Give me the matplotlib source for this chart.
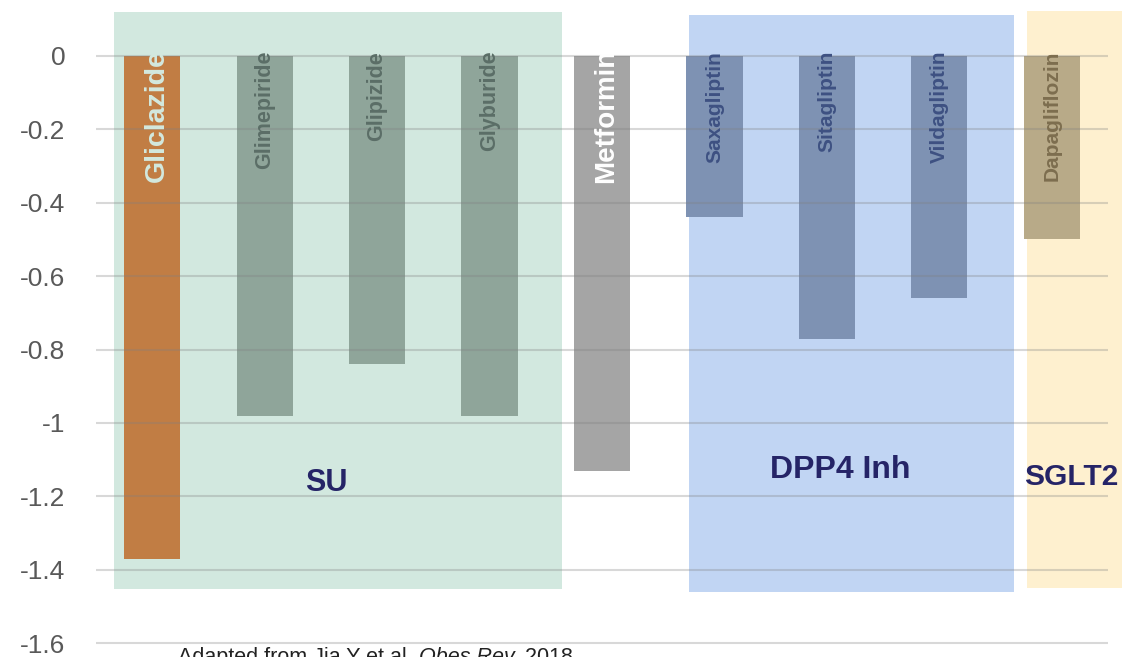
import matplotlib
matplotlib.use("Agg")
import matplotlib.pyplot as plt
from matplotlib.patches import Rectangle

plt.rcParams['axes.unicode_minus'] = False
plt.rcParams['font.family'] = ['Liberation Sans', 'DejaVu Sans']

# data
drugs = ["Gliclazide", "Glimepiride", "Glipizide", "Glyburide", "Metformin",
         "Saxagliptin", "Sitagliptin", "Vildagliptin", "Dapagliflozin"]
change = [-1.37, -0.98, -0.84, -0.98, -1.13, -0.44, -0.77, -0.66, -0.50]
bar_colors = ["#c17d44", "#8fa59a", "#8fa59a", "#8fa59a", "#a5a5a5",
              "#7e92b3", "#7e92b3", "#7e92b3", "#b8aa88"]
label_colors = ["#d3e9df", "#5b6e67", "#5b6e67", "#5b6e67", "#ffffff",
                "#3e5182", "#3e5182", "#3e5182", "#7d6e4f"]
label_sizes = [20.5, 15.5, 15.5, 15.5, 20, 15, 15, 15, 15]
yticks = [0, -0.2, -0.4, -0.6, -0.8, -1, -1.2, -1.4, -1.6]
ytick_labels = ["0", "-0.2", "-0.4", "-0.6", "-0.8", "-1", "-1.2", "-1.4", "-1.6"]

# class boxes: first / last drug index of each class
groups = ["SU", "DPP4 Inh", "SGLT2"]
group_span = [(0, 3), (5, 7), (8, 8)]
group_colors = ["#d2e8df", "#c1d5f3", "#fef0cf"]

note_parts = ["Adapted from Jia Y et al. ", "Obes Rev.", " 2018"]
note_styles = ["normal", "italic", "normal"]

W, H = 1123, 657
fig = plt.figure(figsize=(W / 100, H / 100), dpi=100)
ax = fig.add_axes([96 / W, 0, (1108 - 96) / W, 1])
ax.set_xlim(-0.5, 8.5)
ax.set_ylim(-1.638, 0.1526)

x = list(range(len(drugs)))

# background boxes for the drug classes (pad left, pad right, top, bottom)
box_pad = [(0.34, 0.644, 0.12, -1.453), (0.227, 0.662, 0.112, -1.461), (0.222, 0.622, 0.123, -1.45)]
for (a, b), c, (pl, pr, top, bot) in zip(group_span, group_colors, box_pad):
    r = Rectangle((a - pl, bot), (b - a) + pl + pr, top - bot, facecolor=c,
                  edgecolor="none", zorder=0, clip_on=False)
    ax.add_patch(r)

bars = ax.bar(x, change, width=0.5, color=bar_colors, zorder=2)

for yv in yticks:
    ax.axhline(yv, color="#808080", alpha=0.3, lw=1.5, zorder=3)

for i, (b, name) in enumerate(zip(bars, drugs)):
    t = ax.text(i, 0.014, name, rotation=90, ha="center", va="top",
                fontsize=label_sizes[i], fontweight="bold", color=label_colors[i], zorder=4)
    if label_sizes[i] > 18:
        t.set_position((i + 0.04, 0.02))
        t.set_clip_path(b)

group_text_pos = [(1.55, -1.163), (6.116, -1.128), (8.17, -1.147)]
group_sizes = [22, 23, 21.5]
for g, (gx, gy), fs in zip(groups, group_text_pos, group_sizes):
    ax.text(gx, gy, g, ha="center", va="center", fontsize=fs, fontweight="bold",
            color="#252467", zorder=5, clip_on=False)

ax.set_yticks(yticks)
ax.set_yticklabels(ytick_labels, fontsize=19, color="#595959")
ax.tick_params(axis="y", length=0, pad=22)
ax.set_xticks([])
for s in ax.spines.values():
    s.set_visible(False)
ax.patch.set_alpha(0)

# source note at the bottom edge, pieces placed one after another
renderer = fig.canvas.get_renderer()
xpos = 178 / W
for part, st in zip(note_parts, note_styles):
    t = fig.text(xpos, 1 - 647 / H, part, fontsize=15.5, va="top", ha="left",
                 style=st, color="#222222")
    bb = t.get_window_extent(renderer)
    xpos = bb.x1 / W

fig.savefig("out.png", dpi=100)
